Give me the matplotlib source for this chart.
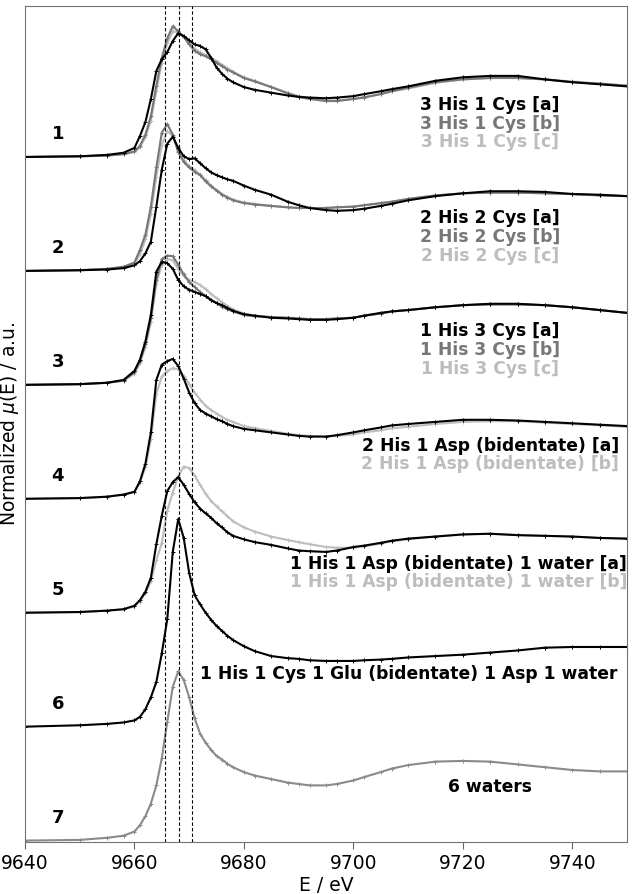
import matplotlib
matplotlib.use("Agg")
import matplotlib.pyplot as plt

# ---- data -------------------------------------------------------------
energy = [9640, 9650, 9655, 9658, 9660, 9661, 9662, 9663, 9664, 9665,
          9666, 9667, 9668, 9669, 9670, 9671, 9672, 9673, 9674, 9675,
          9676, 9677, 9678, 9680, 9682, 9685, 9688, 9690, 9692, 9695,
          9697, 9700, 9702, 9705, 9707, 9710, 9715, 9720, 9725, 9730,
          9735, 9740, 9745, 9750]

his3cys1_a = [0, .01, .03, .06, .13, .30, .50, .83, 1.23, 1.40,
              1.50, 1.66, 1.77, 1.73, 1.67, 1.61, 1.59, 1.54, 1.42, 1.28,
              1.19, 1.12, 1.07, 1.00, .96, .92, .88, .86, .85, .84,
              .85, .87, .90, .94, .97, 1.01, 1.09, 1.14, 1.16, 1.16,
              1.11, 1.07, 1.04, 1.01]
his3cys1_b = [0, .01, .02, .04, .08, .16, .32, .58, 1.02, 1.42,
              1.70, 1.87, 1.80, 1.72, 1.61, 1.52, 1.47, 1.44, 1.40, 1.35,
              1.30, 1.25, 1.21, 1.13, 1.08, 1.00, .91, .86, .83, .80,
              .80, .83, .85, .90, .94, .99, 1.07, 1.11, 1.13, 1.13,
              1.11, 1.07, 1.05, 1.02]
his3cys1_c = [0, .01, .02, .04, .07, .14, .28, .52, .95, 1.35,
              1.63, 1.80, 1.78, 1.72, 1.63, 1.55, 1.50, 1.46, 1.42, 1.37,
              1.32, 1.27, 1.22, 1.14, 1.09, 1.00, .92, .87, .84, .81,
              .81, .83, .86, .90, .94, .98, 1.06, 1.11, 1.13, 1.13,
              1.11, 1.08, 1.05, 1.02]

his2cys2_a = [0, .01, .02, .04, .08, .14, .25, .42, .92, 1.45,
              1.82, 1.92, 1.76, 1.64, 1.60, 1.61, 1.54, 1.47, 1.41, 1.37,
              1.34, 1.31, 1.29, 1.22, 1.16, 1.09, .99, .94, .90, .87,
              .86, .87, .89, .93, .96, 1.01, 1.07, 1.11, 1.14, 1.14,
              1.13, 1.10, 1.09, 1.07]
his2cys2_b = [0, .01, .03, .06, .12, .30, .52, .92, 1.48, 1.98,
              2.10, 1.95, 1.70, 1.56, 1.48, 1.42, 1.37, 1.28, 1.21, 1.15,
              1.09, 1.05, 1.01, .97, .95, .93, .91, .90, .90, .90,
              .91, .92, .94, .97, .99, 1.03, 1.08, 1.11, 1.12, 1.12,
              1.11, 1.10, 1.08, 1.07]
his2cys2_c = [0, .01, .03, .05, .10, .24, .45, .82, 1.35, 1.80,
              2.00, 1.93, 1.72, 1.58, 1.50, 1.44, 1.38, 1.30, 1.22, 1.16,
              1.10, 1.06, 1.02, .98, .96, .93, .91, .90, .90, .90,
              .91, .92, .94, .97, .99, 1.03, 1.08, 1.11, 1.12, 1.12,
              1.11, 1.10, 1.08, 1.07]

his1cys3_a = [0, .01, .03, .07, .20, .36, .62, 1.00, 1.62, 1.76,
              1.74, 1.66, 1.50, 1.41, 1.36, 1.33, 1.30, 1.27, 1.21, 1.17,
              1.14, 1.10, 1.06, 1.01, .99, .96, .95, .94, .93, .93,
              .94, .96, .99, 1.03, 1.05, 1.07, 1.11, 1.14, 1.16, 1.16,
              1.14, 1.11, 1.07, 1.03]
his1cys3_b = [0, .01, .03, .06, .18, .34, .58, .95, 1.50, 1.80,
              1.85, 1.84, 1.72, 1.58, 1.47, 1.40, 1.33, 1.27, 1.22, 1.17,
              1.12, 1.08, 1.05, 1.00, .98, .97, .96, .95, .94, .94,
              .95, .96, .99, 1.02, 1.05, 1.07, 1.11, 1.14, 1.15, 1.15,
              1.14, 1.11, 1.07, 1.03]
his1cys3_c = [0, .01, .03, .06, .16, .31, .54, .90, 1.45, 1.72,
              1.80, 1.78, 1.66, 1.56, 1.50, 1.47, 1.43, 1.37, 1.30, 1.24,
              1.18, 1.13, 1.08, 1.02, .99, .97, .96, .95, .94, .94,
              .95, .96, .99, 1.02, 1.05, 1.07, 1.11, 1.14, 1.15, 1.15,
              1.14, 1.11, 1.07, 1.03]

his2asp_a = [0, .01, .03, .06, .10, .25, .50, .95, 1.70, 1.92,
             1.97, 2.00, 1.90, 1.72, 1.52, 1.37, 1.27, 1.22, 1.18, 1.14,
             1.11, 1.07, 1.04, 1.00, .98, .95, .92, .90, .89, .89,
             .91, .95, .98, 1.02, 1.05, 1.07, 1.10, 1.13, 1.13, 1.12,
             1.10, 1.08, 1.06, 1.04]
his2asp_b = [0, .01, .03, .06, .10, .23, .45, .85, 1.50, 1.75,
             1.83, 1.87, 1.85, 1.76, 1.64, 1.52, 1.42, 1.33, 1.27, 1.22,
             1.17, 1.13, 1.10, 1.04, 1.01, .97, .93, .91, .90, .89,
             .90, .92, .95, .98, 1.01, 1.03, 1.07, 1.10, 1.11, 1.11,
             1.09, 1.07, 1.05, 1.03]

his1asp_water_a = [0, .01, .03, .05, .10, .18, .30, .50, .98, 1.39,
                   1.74, 1.87, 1.94, 1.83, 1.70, 1.58, 1.49, 1.42, 1.36, 1.28,
                   1.22, 1.15, 1.10, 1.05, 1.01, .97, .92, .89, .88, .87,
                   .89, .94, .96, 1.00, 1.03, 1.06, 1.09, 1.12, 1.13, 1.11,
                   1.10, 1.09, 1.07, 1.06]
his1asp_water_b = [0, .01, .03, .05, .09, .16, .28, .45, .75, 1.00,
                   1.46, 1.72, 1.95, 2.09, 2.07, 1.96, 1.83, 1.70, 1.60, 1.52,
                   1.45, 1.38, 1.31, 1.22, 1.16, 1.09, 1.04, 1.01, .98, .94,
                   .93, .93, .95, .99, 1.02, 1.05, 1.09, 1.12, 1.13, 1.11,
                   1.10, 1.09, 1.07, 1.06]

his_cys_glu_asp_water = [0, .02, .04, .06, .09, .14, .25, .42, .64, 1.05,
                         1.54, 2.50, 2.97, 2.70, 2.20, 1.88, 1.75, 1.63, 1.53, 1.44,
                         1.37, 1.30, 1.24, 1.15, 1.08, 1.01, .98, .97, .95, .94,
                         .94, .94, .95, .96, .97, .99, 1.01, 1.03, 1.06, 1.09,
                         1.13, 1.14, 1.14, 1.14]

six_waters = [0, .01, .04, .07, .13, .22, .35, .53, .79, 1.18,
              1.70, 2.20, 2.42, 2.30, 2.05, 1.75, 1.53, 1.40, 1.30, 1.21,
              1.16, 1.10, 1.05, .98, .93, .88, .83, .81, .79, .79,
              .81, .86, .91, .98, 1.03, 1.08, 1.13, 1.14, 1.13, 1.09,
              1.05, 1.01, .99, .99]

panel_numbers = ["1", "2", "3", "4", "5", "6", "7"]
panel_labels = [
    ["3 His 1 Cys [a]", "3 His 1 Cys [b]", "3 His 1 Cys [c]"],
    ["2 His 2 Cys [a]", "2 His 2 Cys [b]", "2 His 2 Cys [c]"],
    ["1 His 3 Cys [a]", "1 His 3 Cys [b]", "1 His 3 Cys [c]"],
    ["2 His 1 Asp (bidentate) [a]", "2 His 1 Asp (bidentate) [b]"],
    ["1 His 1 Asp (bidentate) 1 water [a]", "1 His 1 Asp (bidentate) 1 water [b]"],
    ["1 His 1 Cys 1 Glu (bidentate) 1 Asp 1 water"],
    ["6 waters"],
]
ref_lines = [9665.5, 9668.2, 9670.5]
xticks = [9640, 9660, 9680, 9700, 9720, 9740]

# ---- styling ----------------------------------------------------------
BLACK, GRAY, LIGHT, MID = "#000000", "#777777", "#bdbdbd", "#8a8a8a"
panels = [
    [(his3cys1_c, LIGHT), (his3cys1_b, GRAY), (his3cys1_a, BLACK)],
    [(his2cys2_c, LIGHT), (his2cys2_b, GRAY), (his2cys2_a, BLACK)],
    [(his1cys3_c, LIGHT), (his1cys3_b, GRAY), (his1cys3_a, BLACK)],
    [(his2asp_b, LIGHT), (his2asp_a, BLACK)],
    [(his1asp_water_b, LIGHT), (his1asp_water_a, BLACK)],
    [(his_cys_glu_asp_water, BLACK)],
    [(six_waters, MID)],
]
label_colors = [
    [BLACK, GRAY, LIGHT], [BLACK, GRAY, LIGHT], [BLACK, GRAY, LIGHT],
    [BLACK, LIGHT], [BLACK, LIGHT], [BLACK], [BLACK],
]
label_x = [9725, 9725, 9725, 9725, 9719.2, 9710.1, 9725]
label_dy = [[0.75, 0.47, 0.21], [0.76, 0.49, 0.22], [0.77, 0.50, 0.23],
            [0.75, 0.50], [0.70, 0.44], [0.76], [0.77]]
step = 1.63

fig = plt.figure(figsize=(6.4, 8.94), dpi=100)
ax = fig.add_axes([25 / 640, 1 - 842 / 894, 602 / 640, 836 / 894])

n = len(panels)
for i, curves in enumerate(panels):
    off = (n - 1 - i) * step
    for vals, col in curves:
        ax.plot(energy, [v + off for v in vals], color=col, lw=1.5,
                marker="+", ms=3, mew=0.7, zorder=2)
    ax.text(9646, off + 0.33, panel_numbers[i], fontsize=13,
            fontweight="bold", ha="center", va="center")
    for txt, col, dy in zip(panel_labels[i], label_colors[i], label_dy[i]):
        ax.text(label_x[i], off + dy, txt, color=col, fontsize=12.3,
                fontweight="bold", ha="center", va="center")

for xv in ref_lines:
    ax.axvline(xv, color="black", lw=0.8, ls=(0, (3, 2)), zorder=3)

ax.set_xlim(9640, 9750)
ax.set_ylim(-0.02, 11.94)
ax.set_xticks(xticks)
ax.set_yticks([])
ax.tick_params(axis="x", labelsize=13.5, length=5, color="0.4", direction="out")
for s in ax.spines.values():
    s.set_color("0.45")
ax.set_xlabel("E / eV", fontsize=13.5, labelpad=2)
ax.set_ylabel(r"Normalized $\mu$(E) / a.u.", fontsize=13.5)
ax.yaxis.set_label_coords(-0.006, 0.5)

fig.savefig("out.png", dpi=100)
